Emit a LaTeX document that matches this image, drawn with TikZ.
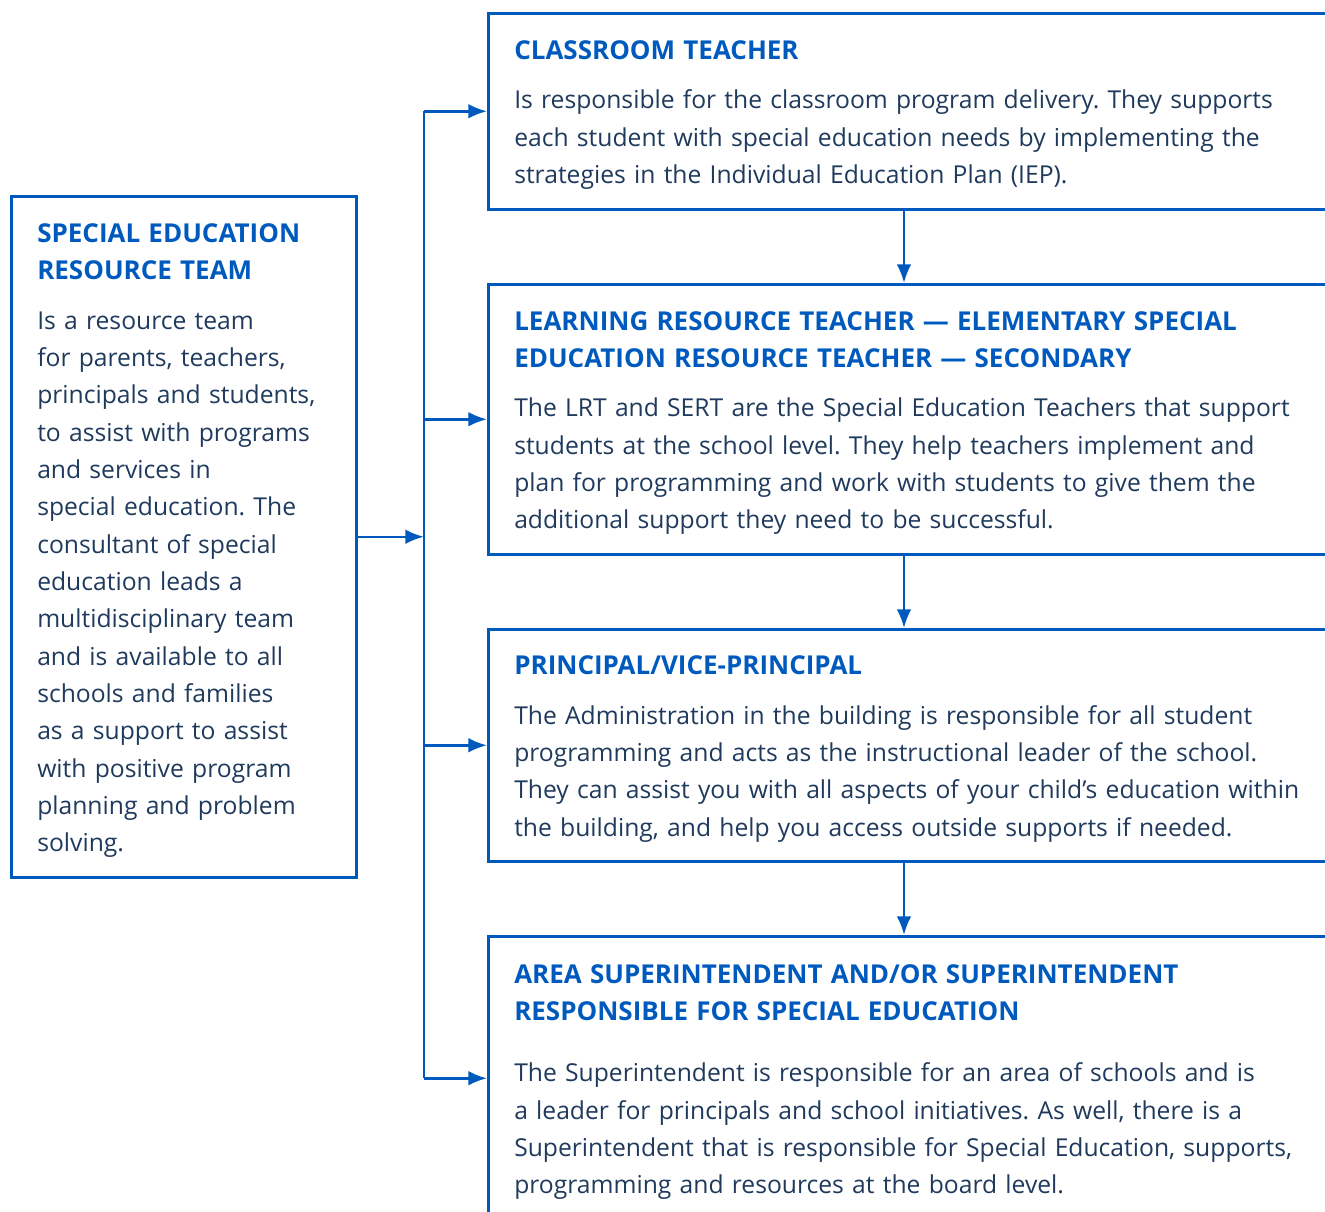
\documentclass[tikz,border=0pt]{standalone}
\usepackage{fontspec}
\setmainfont{Open Sans}
\frenchspacing
\usetikzlibrary{arrows.meta,positioning}
\definecolor{setblue}{HTML}{005ABE}
\definecolor{settext}{HTML}{1F3A5C}
\newcommand{\boxtitle}[1]{{\color{setblue}\fontsize{19.5}{28}\selectfont\bfseries #1}}
\tikzset{
  box/.style={draw=setblue, line width=1.9pt, anchor=north west, align=left,
    inner xsep=19.5pt, inner ysep=0pt, text=settext,
    font=\fontsize{18.5}{28}\selectfont,
    execute at begin node={\rule{0pt}{20pt}}},
  rightbox/.style={box, text width=700pt},
  link/.style={draw=setblue, line width=1.9pt, -{Latex[length=14pt,width=11pt]}}
}
\begin{document}
\begin{tikzpicture}[x=0.75pt,y=-0.75pt]
  \useasboundingbox (0,0) rectangle (1325,1212);
  \node[box, text width=219.75pt, minimum height=510.75pt] (team) at (10,195) {%
    \boxtitle{SPECIAL EDUCATION}\\
    \boxtitle{RESOURCE TEAM}\\[9pt]
    Is a resource team\\
    for parents, teachers,\\
    principals and students,\\
    to assist with programs\\
    and services in\\
    special education. The\\
    consultant of special\\
    education leads a\\
    multidisciplinary team\\
    and is available to all\\
    schools and families\\
    as a support to assist\\
    with positive program\\
    planning and problem\\
    solving.};
  \node[rightbox, minimum height=147pt] (teacher) at (487,12) {%
    \boxtitle{CLASSROOM TEACHER}\\[9pt]
    Is responsible for the classroom program delivery. They supports\\
    each student with special education needs by implementing the\\
    strategies in the Individual Education Plan (IEP).};
  \node[rightbox, minimum height=202.5pt] (lrt) at (487,283) {%
    \boxtitle{LEARNING RESOURCE TEACHER — ELEMENTARY SPECIAL}\\
    \boxtitle{EDUCATION RESOURCE TEACHER — SECONDARY}\\[9pt]
    The LRT and SERT are the Special Education Teachers that support\\
    students at the school level. They help teachers implement and\\
    plan for programming and work with students to give them the\\
    additional support they need to be successful.};
  \node[rightbox, minimum height=174pt] (principal) at (487,628) {%
    \boxtitle{PRINCIPAL/VICE-PRINCIPAL}\\[9pt]
    The Administration in the building is responsible for all student\\
    programming and acts as the instructional leader of the school.\\
    They can assist you with all aspects of your child’s education within\\
    the building, and help you access outside supports if needed.};
  \node[rightbox, minimum height=213pt] (super) at (487,935) {%
    \boxtitle{AREA SUPERINTENDENT AND/OR SUPERINTENDENT}\\
    \boxtitle{RESPONSIBLE FOR SPECIAL EDUCATION}\\[18pt]
    The Superintendent is responsible for an area of schools and is\\
    a leader for principals and school initiatives. As well, there is a\\
    Superintendent that is responsible for Special Education, supports,\\
    programming and resources at the board level.};
  \coordinate (trunk) at (424,0);
  \coordinate (spine) at (904,0);
  \draw[setblue, line width=1.9pt] (teacher.west -| trunk) -- (super.west -| trunk);
  \draw[link] (team.east) -- (team.east -| trunk);
  \foreach \b in {teacher,lrt,principal,super}
    \draw[link] (\b.west -| trunk) -- (\b.west);
  \draw[link] (teacher.south -| spine) -- (lrt.north -| spine);
  \draw[link] (lrt.south -| spine) -- (principal.north -| spine);
  \draw[link] (principal.south -| spine) -- (super.north -| spine);
\end{tikzpicture}
\end{document}
